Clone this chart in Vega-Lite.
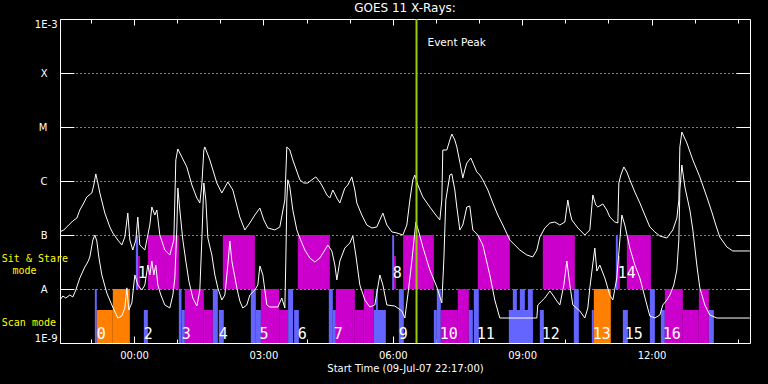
{
  "$schema": "https://vega.github.io/schema/vega-lite/v6.json",
  "width": 690,
  "height": 324,
  "autosize": "none",
  "padding": {"left": 60, "top": 19, "right": 18, "bottom": 41},
  "background": "black",
  "config": {
    "view": {"stroke": "white", "strokeWidth": 1},
    "font": "DejaVu Sans",
    "axis": {"labelFont": "DejaVu Sans", "titleFont": "DejaVu Sans", "labelColor": "white", "titleColor": "white", "tickColor": "white", "domain": false, "grid": false, "titleFontWeight": "normal"}
  },
  "title": {"text": "GOES 11 X-Rays:", "color": "white", "fontSize": 12, "fontWeight": "normal", "font": "DejaVu Sans", "offset": 3, "anchor": "middle"},
  "datasets": {
    "bars": [
      {"start": -0.909, "end": -0.863, "lo": 1e-9, "hi": 1e-8, "kind": "blue"},
      {"start": -0.863, "end": -0.492, "lo": 1e-9, "hi": 4.08e-9, "kind": "orange"},
      {"start": -0.492, "end": -0.097, "lo": 1e-9, "hi": 1e-8, "kind": "orange"},
      {"start": 0.227, "end": 0.320, "lo": 1e-9, "hi": 4.08e-9, "kind": "blue"},
      {"start": 1.039, "end": 1.101, "lo": 1e-9, "hi": 1e-8, "kind": "blue"},
      {"start": 1.101, "end": 1.178, "lo": 1e-9, "hi": 4.08e-9, "kind": "blue"},
      {"start": 1.178, "end": 1.619, "lo": 1e-9, "hi": 1e-8, "kind": "magenta"},
      {"start": 1.619, "end": 1.827, "lo": 1e-9, "hi": 4.08e-9, "kind": "magenta"},
      {"start": 1.827, "end": 1.943, "lo": 1e-9, "hi": 1e-8, "kind": "blue"},
      {"start": 1.966, "end": 2.082, "lo": 1e-9, "hi": 4.08e-9, "kind": "blue"},
      {"start": 2.708, "end": 2.824, "lo": 1e-9, "hi": 1e-8, "kind": "blue"},
      {"start": 2.824, "end": 2.942, "lo": 1e-9, "hi": 4.08e-9, "kind": "blue"},
      {"start": 2.942, "end": 3.365, "lo": 1e-9, "hi": 1e-8, "kind": "magenta"},
      {"start": 3.365, "end": 3.573, "lo": 1e-9, "hi": 4.08e-9, "kind": "magenta"},
      {"start": 3.573, "end": 3.689, "lo": 1e-9, "hi": 1e-8, "kind": "blue"},
      {"start": 3.712, "end": 3.822, "lo": 1e-9, "hi": 4.08e-9, "kind": "blue"},
      {"start": 4.517, "end": 4.610, "lo": 1e-9, "hi": 1e-8, "kind": "blue"},
      {"start": 4.610, "end": 4.680, "lo": 1e-9, "hi": 4.08e-9, "kind": "blue"},
      {"start": 4.680, "end": 5.120, "lo": 1e-9, "hi": 1e-8, "kind": "magenta"},
      {"start": 5.120, "end": 5.329, "lo": 1e-9, "hi": 4.08e-9, "kind": "magenta"},
      {"start": 5.329, "end": 5.561, "lo": 1e-9, "hi": 1e-8, "kind": "magenta"},
      {"start": 5.561, "end": 5.839, "lo": 1e-9, "hi": 4.08e-9, "kind": "blue"},
      {"start": 5.607, "end": 5.654, "lo": 1e-9, "hi": 1e-8, "kind": "blue"},
      {"start": 6.140, "end": 6.256, "lo": 1e-9, "hi": 1e-8, "kind": "blue"},
      {"start": 6.952, "end": 7.021, "lo": 1e-9, "hi": 4.08e-9, "kind": "blue"},
      {"start": 7.021, "end": 7.114, "lo": 1e-9, "hi": 1e-8, "kind": "blue"},
      {"start": 7.114, "end": 7.508, "lo": 1e-9, "hi": 4.08e-9, "kind": "magenta"},
      {"start": 7.508, "end": 7.763, "lo": 1e-9, "hi": 1e-8, "kind": "magenta"},
      {"start": 7.763, "end": 7.856, "lo": 1e-9, "hi": 4.08e-9, "kind": "blue"},
      {"start": 7.879, "end": 7.995, "lo": 1e-9, "hi": 1e-8, "kind": "blue"},
      {"start": 8.691, "end": 9.247, "lo": 1e-9, "hi": 4.08e-9, "kind": "blue"},
      {"start": 8.784, "end": 8.877, "lo": 1e-9, "hi": 1e-8, "kind": "blue"},
      {"start": 8.946, "end": 9.062, "lo": 1e-9, "hi": 1e-8, "kind": "blue"},
      {"start": 9.132, "end": 9.247, "lo": 1e-9, "hi": 1e-8, "kind": "blue"},
      {"start": 9.410, "end": 9.503, "lo": 1e-9, "hi": 4.08e-9, "kind": "blue"},
      {"start": 10.198, "end": 10.314, "lo": 1e-9, "hi": 1e-8, "kind": "blue"},
      {"start": 10.615, "end": 10.662, "lo": 1e-9, "hi": 4.08e-9, "kind": "blue"},
      {"start": 10.662, "end": 11.056, "lo": 1e-9, "hi": 1e-8, "kind": "orange"},
      {"start": 11.335, "end": 11.451, "lo": 1e-9, "hi": 4.08e-9, "kind": "blue"},
      {"start": 11.961, "end": 12.077, "lo": 1e-9, "hi": 1e-8, "kind": "blue"},
      {"start": 12.216, "end": 12.309, "lo": 1e-9, "hi": 4.08e-9, "kind": "blue"},
      {"start": 12.309, "end": 12.726, "lo": 1e-9, "hi": 1e-8, "kind": "magenta"},
      {"start": 12.726, "end": 13.097, "lo": 1e-9, "hi": 4.08e-9, "kind": "magenta"},
      {"start": 13.097, "end": 13.329, "lo": 1e-9, "hi": 1e-8, "kind": "magenta"},
      {"start": 13.329, "end": 13.445, "lo": 1e-9, "hi": 4.08e-9, "kind": "blue"},
      {"start": 0.042, "end": 0.095, "lo": 1e-8, "hi": 1e-7, "kind": "blue"},
      {"start": 0.095, "end": 0.134, "lo": 1e-8, "hi": 4.08e-8, "kind": "magenta"},
      {"start": 0.320, "end": 1.039, "lo": 1e-8, "hi": 1e-7, "kind": "magenta"},
      {"start": 2.059, "end": 2.802, "lo": 1e-8, "hi": 1e-7, "kind": "magenta"},
      {"start": 3.798, "end": 4.540, "lo": 1e-8, "hi": 1e-7, "kind": "magenta"},
      {"start": 5.986, "end": 6.031, "lo": 1e-8, "hi": 1e-7, "kind": "blue"},
      {"start": 6.031, "end": 6.071, "lo": 1e-8, "hi": 4.08e-8, "kind": "magenta"},
      {"start": 6.240, "end": 6.952, "lo": 1e-8, "hi": 1e-7, "kind": "magenta"},
      {"start": 7.972, "end": 8.714, "lo": 1e-8, "hi": 1e-7, "kind": "magenta"},
      {"start": 9.479, "end": 10.221, "lo": 1e-8, "hi": 1e-7, "kind": "magenta"},
      {"start": 11.172, "end": 11.219, "lo": 1e-8, "hi": 1e-7, "kind": "blue"},
      {"start": 11.219, "end": 11.265, "lo": 1e-8, "hi": 4.08e-8, "kind": "magenta"},
      {"start": 11.427, "end": 11.985, "lo": 1e-8, "hi": 1e-7, "kind": "magenta"}
    ],
    "nums": [
      {"hour": -0.863, "flux": 1.21e-9, "label": "0"},
      {"hour": 0.088, "flux": 1.6e-8, "label": "1"},
      {"hour": 0.227, "flux": 1.21e-9, "label": "2"},
      {"hour": 1.108, "flux": 1.21e-9, "label": "3"},
      {"hour": 1.966, "flux": 1.21e-9, "label": "4"},
      {"hour": 2.911, "flux": 1.21e-9, "label": "5"},
      {"hour": 3.794, "flux": 1.21e-9, "label": "6"},
      {"hour": 4.633, "flux": 1.21e-9, "label": "7"},
      {"hour": 6.001, "flux": 1.6e-8, "label": "8"},
      {"hour": 6.140, "flux": 1.21e-9, "label": "9"},
      {"hour": 7.091, "flux": 1.21e-9, "label": "10"},
      {"hour": 7.949, "flux": 1.21e-9, "label": "11"},
      {"hour": 9.456, "flux": 1.21e-9, "label": "12"},
      {"hour": 10.638, "flux": 1.21e-9, "label": "13"},
      {"hour": 11.217, "flux": 1.6e-8, "label": "14"},
      {"hour": 11.379, "flux": 1.21e-9, "label": "15"},
      {"hour": 12.260, "flux": 1.21e-9, "label": "16"}
    ],
    "side": [
      {"hour": -3.066, "flux": 3.6e-8, "label": "Sit & Stare"},
      {"hour": -2.817, "flux": 2.15e-8, "label": "mode"},
      {"hour": -3.066, "flux": 2.3e-9, "label": "Scan mode"}
    ],
    "event": [{"hour": 6.55, "flux": 3.6e-4, "label": "Event Peak"}],
    "flux": [
      {"ch": "long", "hour": -1.721, "flux": 1.14e-7}, {"ch": "long", "hour": -1.628, "flux": 1.24e-7}, {"ch": "long", "hour": -1.535, "flux": 1.47e-7}, {"ch": "long", "hour": -1.419, "flux": 1.82e-7}, {"ch": "long", "hour": -1.326, "flux": 2.06e-7}, {"ch": "long", "hour": -1.257, "flux": 2.90e-7}, {"ch": "long", "hour": -1.165, "flux": 3.92e-7}, {"ch": "long", "hour": -1.095, "flux": 5.06e-7}, {"ch": "long", "hour": -0.979, "flux": 6.00e-7}, {"ch": "long", "hour": -0.932, "flux": 8.43e-7}, {"ch": "long", "hour": -0.886, "flux": 1.35e-6}, {"ch": "long", "hour": -0.839, "flux": 9.18e-7}, {"ch": "long", "hour": -0.793, "flux": 6.00e-7}, {"ch": "long", "hour": -0.677, "flux": 2.55e-7}, {"ch": "long", "hour": -0.561, "flux": 1.41e-7}, {"ch": "long", "hour": -0.492, "flux": 1.09e-7}, {"ch": "long", "hour": -0.376, "flux": 8.07e-8}, {"ch": "long", "hour": -0.283, "flux": 6.53e-8}, {"ch": "long", "hour": -0.213, "flux": 9.18e-8}, {"ch": "long", "hour": -0.144, "flux": 2.55e-7}, {"ch": "long", "hour": -0.097, "flux": 8.07e-8}, {"ch": "long", "hour": -0.028, "flux": 5.27e-8}, {"ch": "long", "hour": 0.042, "flux": 8.07e-8}, {"ch": "long", "hour": 0.088, "flux": 2.15e-7}, {"ch": "long", "hour": 0.134, "flux": 6.53e-8}, {"ch": "long", "hour": 0.251, "flux": 5.27e-8}, {"ch": "long", "hour": 0.366, "flux": 1.53e-7}, {"ch": "long", "hour": 0.413, "flux": 3.30e-7}, {"ch": "long", "hour": 0.482, "flux": 2.34e-7}, {"ch": "long", "hour": 0.529, "flux": 2.90e-7}, {"ch": "long", "hour": 0.598, "flux": 1.00e-7}, {"ch": "long", "hour": 0.714, "flux": 5.27e-8}, {"ch": "long", "hour": 0.830, "flux": 4.27e-8}, {"ch": "long", "hour": 0.923, "flux": 8.07e-8}, {"ch": "long", "hour": 0.969, "flux": 2.45e-6}, {"ch": "long", "hour": 1.016, "flux": 3.92e-6}, {"ch": "long", "hour": 1.085, "flux": 3.03e-6}, {"ch": "long", "hour": 1.224, "flux": 1.82e-6}, {"ch": "long", "hour": 1.341, "flux": 8.43e-7}, {"ch": "long", "hour": 1.457, "flux": 4.84e-7}, {"ch": "long", "hour": 1.526, "flux": 3.92e-7}, {"ch": "long", "hour": 1.572, "flux": 8.43e-7}, {"ch": "long", "hour": 1.619, "flux": 3.75e-6}, {"ch": "long", "hour": 1.642, "flux": 4.27e-6}, {"ch": "long", "hour": 1.758, "flux": 2.45e-6}, {"ch": "long", "hour": 1.920, "flux": 9.18e-7}, {"ch": "long", "hour": 2.036, "flux": 6.00e-7}, {"ch": "long", "hour": 2.175, "flux": 9.57e-7}, {"ch": "long", "hour": 2.291, "flux": 6.81e-7}, {"ch": "long", "hour": 2.453, "flux": 2.15e-7}, {"ch": "long", "hour": 2.569, "flux": 1.24e-7}, {"ch": "long", "hour": 2.685, "flux": 1.67e-7}, {"ch": "long", "hour": 2.801, "flux": 2.34e-7}, {"ch": "long", "hour": 2.918, "flux": 3.16e-7}, {"ch": "long", "hour": 3.010, "flux": 1.90e-7}, {"ch": "long", "hour": 3.103, "flux": 1.35e-7}, {"ch": "long", "hour": 3.265, "flux": 1.24e-7}, {"ch": "long", "hour": 3.381, "flux": 1.41e-7}, {"ch": "long", "hour": 3.497, "flux": 4.45e-7}, {"ch": "long", "hour": 3.543, "flux": 4.27e-6}, {"ch": "long", "hour": 3.613, "flux": 3.75e-6}, {"ch": "long", "hour": 3.682, "flux": 2.45e-6}, {"ch": "long", "hour": 3.845, "flux": 1.05e-6}, {"ch": "long", "hour": 3.937, "flux": 9.18e-7}, {"ch": "long", "hour": 4.030, "flux": 9.18e-7}, {"ch": "long", "hour": 4.123, "flux": 1.05e-6}, {"ch": "long", "hour": 4.216, "flux": 1.19e-6}, {"ch": "long", "hour": 4.308, "flux": 9.57e-7}, {"ch": "long", "hour": 4.378, "flux": 7.74e-7}, {"ch": "long", "hour": 4.471, "flux": 5.51e-7}, {"ch": "long", "hour": 4.540, "flux": 4.84e-7}, {"ch": "long", "hour": 4.610, "flux": 6.81e-7}, {"ch": "long", "hour": 4.703, "flux": 4.84e-7}, {"ch": "long", "hour": 4.772, "flux": 3.92e-7}, {"ch": "long", "hour": 4.888, "flux": 7.41e-7}, {"ch": "long", "hour": 4.958, "flux": 8.43e-7}, {"ch": "long", "hour": 5.050, "flux": 1.19e-6}, {"ch": "long", "hour": 5.120, "flux": 6.81e-7}, {"ch": "long", "hour": 5.166, "flux": 3.92e-7}, {"ch": "long", "hour": 5.282, "flux": 2.34e-7}, {"ch": "long", "hour": 5.398, "flux": 1.53e-7}, {"ch": "long", "hour": 5.514, "flux": 1.35e-7}, {"ch": "long", "hour": 5.630, "flux": 1.41e-7}, {"ch": "long", "hour": 5.700, "flux": 1.90e-7}, {"ch": "long", "hour": 5.770, "flux": 2.55e-7}, {"ch": "long", "hour": 5.862, "flux": 1.53e-7}, {"ch": "long", "hour": 5.978, "flux": 1.14e-7}, {"ch": "long", "hour": 6.094, "flux": 1.09e-7}, {"ch": "long", "hour": 6.233, "flux": 1.00e-7}, {"ch": "long", "hour": 6.326, "flux": 1.53e-7}, {"ch": "long", "hour": 6.396, "flux": 4.45e-7}, {"ch": "long", "hour": 6.465, "flux": 1.05e-6}, {"ch": "long", "hour": 6.511, "flux": 1.29e-6}, {"ch": "long", "hour": 6.581, "flux": 8.43e-7}, {"ch": "long", "hour": 6.697, "flux": 5.06e-7}, {"ch": "long", "hour": 6.859, "flux": 3.30e-7}, {"ch": "long", "hour": 6.998, "flux": 2.34e-7}, {"ch": "long", "hour": 7.091, "flux": 1.90e-7}, {"ch": "long", "hour": 7.137, "flux": 4.45e-7}, {"ch": "long", "hour": 7.160, "flux": 3.75e-6}, {"ch": "long", "hour": 7.253, "flux": 3.75e-6}, {"ch": "long", "hour": 7.323, "flux": 5.74e-6}, {"ch": "long", "hour": 7.369, "flux": 7.41e-6}, {"ch": "long", "hour": 7.439, "flux": 5.74e-6}, {"ch": "long", "hour": 7.485, "flux": 4.27e-6}, {"ch": "long", "hour": 7.555, "flux": 2.25e-6}, {"ch": "long", "hour": 7.624, "flux": 1.14e-6}, {"ch": "long", "hour": 7.670, "flux": 1.60e-6}, {"ch": "long", "hour": 7.717, "flux": 2.15e-6}, {"ch": "long", "hour": 7.810, "flux": 2.67e-6}, {"ch": "long", "hour": 7.879, "flux": 1.98e-6}, {"ch": "long", "hour": 7.949, "flux": 1.47e-6}, {"ch": "long", "hour": 8.019, "flux": 1.29e-6}, {"ch": "long", "hour": 8.088, "flux": 1.05e-6}, {"ch": "long", "hour": 8.204, "flux": 6.81e-7}, {"ch": "long", "hour": 8.320, "flux": 3.92e-7}, {"ch": "long", "hour": 8.436, "flux": 2.34e-7}, {"ch": "long", "hour": 8.552, "flux": 1.53e-7}, {"ch": "long", "hour": 8.714, "flux": 8.07e-8}, {"ch": "long", "hour": 8.946, "flux": 5.27e-8}, {"ch": "long", "hour": 9.108, "flux": 4.27e-8}, {"ch": "long", "hour": 9.247, "flux": 3.92e-8}, {"ch": "long", "hour": 9.340, "flux": 5.27e-8}, {"ch": "long", "hour": 9.410, "flux": 9.18e-8}, {"ch": "long", "hour": 9.526, "flux": 1.35e-7}, {"ch": "long", "hour": 9.642, "flux": 1.67e-7}, {"ch": "long", "hour": 9.758, "flux": 1.74e-7}, {"ch": "long", "hour": 9.874, "flux": 1.53e-7}, {"ch": "long", "hour": 9.990, "flux": 1.74e-7}, {"ch": "long", "hour": 10.059, "flux": 4.45e-7}, {"ch": "long", "hour": 10.106, "flux": 2.67e-7}, {"ch": "long", "hour": 10.152, "flux": 1.90e-7}, {"ch": "long", "hour": 10.291, "flux": 1.35e-7}, {"ch": "long", "hour": 10.453, "flux": 1.00e-7}, {"ch": "long", "hour": 10.569, "flux": 1.24e-7}, {"ch": "long", "hour": 10.639, "flux": 5.51e-7}, {"ch": "long", "hour": 10.708, "flux": 3.59e-7}, {"ch": "long", "hour": 10.755, "flux": 3.30e-7}, {"ch": "long", "hour": 10.871, "flux": 3.75e-7}, {"ch": "long", "hour": 10.963, "flux": 2.90e-7}, {"ch": "long", "hour": 11.033, "flux": 2.15e-7}, {"ch": "long", "hour": 11.149, "flux": 1.74e-7}, {"ch": "long", "hour": 11.219, "flux": 1.67e-7}, {"ch": "long", "hour": 11.242, "flux": 9.18e-7}, {"ch": "long", "hour": 11.288, "flux": 1.29e-6}, {"ch": "long", "hour": 11.358, "flux": 1.82e-6}, {"ch": "long", "hour": 11.427, "flux": 1.47e-6}, {"ch": "long", "hour": 11.497, "flux": 1.05e-6}, {"ch": "long", "hour": 11.613, "flux": 6.25e-7}, {"ch": "long", "hour": 11.729, "flux": 3.92e-7}, {"ch": "long", "hour": 11.845, "flux": 2.34e-7}, {"ch": "long", "hour": 11.961, "flux": 1.41e-7}, {"ch": "long", "hour": 12.077, "flux": 1.14e-7}, {"ch": "long", "hour": 12.193, "flux": 9.57e-8}, {"ch": "long", "hour": 12.355, "flux": 8.79e-8}, {"ch": "long", "hour": 12.494, "flux": 1.24e-7}, {"ch": "long", "hour": 12.587, "flux": 2.06e-7}, {"ch": "long", "hour": 12.633, "flux": 4.45e-7}, {"ch": "long", "hour": 12.657, "flux": 4.27e-6}, {"ch": "long", "hour": 12.703, "flux": 8.07e-6}, {"ch": "long", "hour": 12.819, "flux": 5.06e-6}, {"ch": "long", "hour": 12.958, "flux": 2.45e-6}, {"ch": "long", "hour": 13.120, "flux": 1.19e-6}, {"ch": "long", "hour": 13.282, "flux": 5.06e-7}, {"ch": "long", "hour": 13.398, "flux": 2.67e-7}, {"ch": "long", "hour": 13.490, "flux": 1.53e-7}, {"ch": "long", "hour": 13.583, "flux": 9.18e-8}, {"ch": "long", "hour": 13.746, "flux": 6.00e-8}, {"ch": "long", "hour": 13.885, "flux": 5.06e-8}, {"ch": "long", "hour": 14.279, "flux": 5.06e-8},
      {"ch": "short", "hour": -1.721, "flux": 6.25e-9}, {"ch": "short", "hour": -1.651, "flux": 7.41e-9}, {"ch": "short", "hour": -1.582, "flux": 6.81e-9}, {"ch": "short", "hour": -1.489, "flux": 7.74e-9}, {"ch": "short", "hour": -1.419, "flux": 7.11e-9}, {"ch": "short", "hour": -1.350, "flux": 9.57e-9}, {"ch": "short", "hour": -1.257, "flux": 1.60e-8}, {"ch": "short", "hour": -1.141, "flux": 2.55e-8}, {"ch": "short", "hour": -1.072, "flux": 3.16e-8}, {"ch": "short", "hour": -1.025, "flux": 3.92e-8}, {"ch": "short", "hour": -0.955, "flux": 8.07e-8}, {"ch": "short", "hour": -0.909, "flux": 1.00e-7}, {"ch": "short", "hour": -0.863, "flux": 7.74e-8}, {"ch": "short", "hour": -0.816, "flux": 3.92e-8}, {"ch": "short", "hour": -0.747, "flux": 1.82e-8}, {"ch": "short", "hour": -0.631, "flux": 8.43e-9}, {"ch": "short", "hour": -0.515, "flux": 5.06e-9}, {"ch": "short", "hour": -0.376, "flux": 2.90e-9}, {"ch": "short", "hour": -0.283, "flux": 3.16e-9}, {"ch": "short", "hour": -0.213, "flux": 4.45e-9}, {"ch": "short", "hour": -0.167, "flux": 1.05e-8}, {"ch": "short", "hour": -0.121, "flux": 4.08e-9}, {"ch": "short", "hour": -0.051, "flux": 5.51e-9}, {"ch": "short", "hour": 0.019, "flux": 1.82e-8}, {"ch": "short", "hour": 0.088, "flux": 1.19e-8}, {"ch": "short", "hour": 0.181, "flux": 9.57e-9}, {"ch": "short", "hour": 0.251, "flux": 1.19e-8}, {"ch": "short", "hour": 0.320, "flux": 2.78e-8}, {"ch": "short", "hour": 0.366, "flux": 1.82e-8}, {"ch": "short", "hour": 0.413, "flux": 3.30e-8}, {"ch": "short", "hour": 0.459, "flux": 1.82e-8}, {"ch": "short", "hour": 0.505, "flux": 2.78e-8}, {"ch": "short", "hour": 0.552, "flux": 1.19e-8}, {"ch": "short", "hour": 0.621, "flux": 7.74e-9}, {"ch": "short", "hour": 0.714, "flux": 5.06e-9}, {"ch": "short", "hour": 0.830, "flux": 4.45e-9}, {"ch": "short", "hour": 0.900, "flux": 7.74e-9}, {"ch": "short", "hour": 0.946, "flux": 1.60e-8}, {"ch": "short", "hour": 0.993, "flux": 1.35e-7}, {"ch": "short", "hour": 1.016, "flux": 7.41e-7}, {"ch": "short", "hour": 1.062, "flux": 2.90e-7}, {"ch": "short", "hour": 1.132, "flux": 8.07e-8}, {"ch": "short", "hour": 1.201, "flux": 3.30e-8}, {"ch": "short", "hour": 1.271, "flux": 1.41e-8}, {"ch": "short", "hour": 1.363, "flux": 6.81e-9}, {"ch": "short", "hour": 1.457, "flux": 4.84e-9}, {"ch": "short", "hour": 1.526, "flux": 9.57e-9}, {"ch": "short", "hour": 1.572, "flux": 8.07e-8}, {"ch": "short", "hour": 1.619, "flux": 9.18e-7}, {"ch": "short", "hour": 1.665, "flux": 4.45e-7}, {"ch": "short", "hour": 1.712, "flux": 8.79e-8}, {"ch": "short", "hour": 1.804, "flux": 4.27e-8}, {"ch": "short", "hour": 1.874, "flux": 1.82e-8}, {"ch": "short", "hour": 1.943, "flux": 1.05e-8}, {"ch": "short", "hour": 2.036, "flux": 6.25e-9}, {"ch": "short", "hour": 2.106, "flux": 7.74e-9}, {"ch": "short", "hour": 2.175, "flux": 2.78e-8}, {"ch": "short", "hour": 2.222, "flux": 7.74e-8}, {"ch": "short", "hour": 2.268, "flux": 3.30e-8}, {"ch": "short", "hour": 2.384, "flux": 1.05e-8}, {"ch": "short", "hour": 2.453, "flux": 6.00e-9}, {"ch": "short", "hour": 2.522, "flux": 4.45e-9}, {"ch": "short", "hour": 2.615, "flux": 5.06e-9}, {"ch": "short", "hour": 2.685, "flux": 7.74e-9}, {"ch": "short", "hour": 2.801, "flux": 9.57e-9}, {"ch": "short", "hour": 2.871, "flux": 1.19e-8}, {"ch": "short", "hour": 2.918, "flux": 2.67e-8}, {"ch": "short", "hour": 2.987, "flux": 1.82e-8}, {"ch": "short", "hour": 3.080, "flux": 5.06e-9}, {"ch": "short", "hour": 3.149, "flux": 4.64e-9}, {"ch": "short", "hour": 3.335, "flux": 4.64e-9}, {"ch": "short", "hour": 3.427, "flux": 6.81e-9}, {"ch": "short", "hour": 3.497, "flux": 4.45e-9}, {"ch": "short", "hour": 3.520, "flux": 3.44e-8}, {"ch": "short", "hour": 3.543, "flux": 4.45e-7}, {"ch": "short", "hour": 3.566, "flux": 1.05e-6}, {"ch": "short", "hour": 3.613, "flux": 7.74e-7}, {"ch": "short", "hour": 3.682, "flux": 2.90e-7}, {"ch": "short", "hour": 3.775, "flux": 1.24e-7}, {"ch": "short", "hour": 3.845, "flux": 8.79e-8}, {"ch": "short", "hour": 3.961, "flux": 5.27e-8}, {"ch": "short", "hour": 4.077, "flux": 3.75e-8}, {"ch": "short", "hour": 4.193, "flux": 3.16e-8}, {"ch": "short", "hour": 4.309, "flux": 3.75e-8}, {"ch": "short", "hour": 4.425, "flux": 5.27e-8}, {"ch": "short", "hour": 4.494, "flux": 6.53e-8}, {"ch": "short", "hour": 4.587, "flux": 5.06e-8}, {"ch": "short", "hour": 4.657, "flux": 2.78e-8}, {"ch": "short", "hour": 4.703, "flux": 1.47e-8}, {"ch": "short", "hour": 4.773, "flux": 3.30e-8}, {"ch": "short", "hour": 4.888, "flux": 5.74e-8}, {"ch": "short", "hour": 5.004, "flux": 7.11e-8}, {"ch": "short", "hour": 5.074, "flux": 9.57e-8}, {"ch": "short", "hour": 5.143, "flux": 4.27e-8}, {"ch": "short", "hour": 5.236, "flux": 1.19e-8}, {"ch": "short", "hour": 5.352, "flux": 6.25e-9}, {"ch": "short", "hour": 5.468, "flux": 4.64e-9}, {"ch": "short", "hour": 5.584, "flux": 5.06e-9}, {"ch": "short", "hour": 5.700, "flux": 1.82e-8}, {"ch": "short", "hour": 5.770, "flux": 1.19e-8}, {"ch": "short", "hour": 5.862, "flux": 5.06e-9}, {"ch": "short", "hour": 6.048, "flux": 4.84e-9}, {"ch": "short", "hour": 6.210, "flux": 3.92e-9}, {"ch": "short", "hour": 6.280, "flux": 2.90e-9}, {"ch": "short", "hour": 6.349, "flux": 7.74e-9}, {"ch": "short", "hour": 6.442, "flux": 3.30e-8}, {"ch": "short", "hour": 6.535, "flux": 1.74e-7}, {"ch": "short", "hour": 6.604, "flux": 1.14e-7}, {"ch": "short", "hour": 6.697, "flux": 6.00e-8}, {"ch": "short", "hour": 6.859, "flux": 2.25e-8}, {"ch": "short", "hour": 7.021, "flux": 1.09e-8}, {"ch": "short", "hour": 7.137, "flux": 5.51e-9}, {"ch": "short", "hour": 7.184, "flux": 3.44e-8}, {"ch": "short", "hour": 7.230, "flux": 4.45e-7}, {"ch": "short", "hour": 7.323, "flux": 1.29e-6}, {"ch": "short", "hour": 7.369, "flux": 1.35e-6}, {"ch": "short", "hour": 7.439, "flux": 6.81e-7}, {"ch": "short", "hour": 7.485, "flux": 3.30e-7}, {"ch": "short", "hour": 7.555, "flux": 1.24e-7}, {"ch": "short", "hour": 7.624, "flux": 1.53e-7}, {"ch": "short", "hour": 7.717, "flux": 3.30e-7}, {"ch": "short", "hour": 7.786, "flux": 3.44e-7}, {"ch": "short", "hour": 7.856, "flux": 1.24e-7}, {"ch": "short", "hour": 7.972, "flux": 1.00e-7}, {"ch": "short", "hour": 8.088, "flux": 6.53e-8}, {"ch": "short", "hour": 8.250, "flux": 1.82e-8}, {"ch": "short", "hour": 8.366, "flux": 6.25e-9}, {"ch": "short", "hour": 8.482, "flux": 2.90e-9}, {"ch": "short", "hour": 9.340, "flux": 2.90e-9}, {"ch": "short", "hour": 9.363, "flux": 5.06e-9}, {"ch": "short", "hour": 9.526, "flux": 6.81e-9}, {"ch": "short", "hour": 9.642, "flux": 9.18e-9}, {"ch": "short", "hour": 9.712, "flux": 7.74e-9}, {"ch": "short", "hour": 9.804, "flux": 6.00e-9}, {"ch": "short", "hour": 9.874, "flux": 5.06e-9}, {"ch": "short", "hour": 9.967, "flux": 1.19e-8}, {"ch": "short", "hour": 10.036, "flux": 3.30e-8}, {"ch": "short", "hour": 10.106, "flux": 1.19e-8}, {"ch": "short", "hour": 10.175, "flux": 5.06e-9}, {"ch": "short", "hour": 10.337, "flux": 3.92e-9}, {"ch": "short", "hour": 10.453, "flux": 2.90e-9}, {"ch": "short", "hour": 10.523, "flux": 4.45e-9}, {"ch": "short", "hour": 10.569, "flux": 1.05e-8}, {"ch": "short", "hour": 10.685, "flux": 5.74e-8}, {"ch": "short", "hour": 10.732, "flux": 2.15e-8}, {"ch": "short", "hour": 10.801, "flux": 2.78e-8}, {"ch": "short", "hour": 10.917, "flux": 1.60e-8}, {"ch": "short", "hour": 11.033, "flux": 7.74e-9}, {"ch": "short", "hour": 11.103, "flux": 6.25e-9}, {"ch": "short", "hour": 11.195, "flux": 1.60e-8}, {"ch": "short", "hour": 11.265, "flux": 8.07e-8}, {"ch": "short", "hour": 11.312, "flux": 2.34e-7}, {"ch": "short", "hour": 11.381, "flux": 1.53e-7}, {"ch": "short", "hour": 11.497, "flux": 5.74e-8}, {"ch": "short", "hour": 11.613, "flux": 2.78e-8}, {"ch": "short", "hour": 11.729, "flux": 1.60e-8}, {"ch": "short", "hour": 11.892, "flux": 5.06e-9}, {"ch": "short", "hour": 11.961, "flux": 3.16e-9}, {"ch": "short", "hour": 12.077, "flux": 2.90e-9}, {"ch": "short", "hour": 12.193, "flux": 3.30e-9}, {"ch": "short", "hour": 12.262, "flux": 5.06e-9}, {"ch": "short", "hour": 12.355, "flux": 6.25e-9}, {"ch": "short", "hour": 12.425, "flux": 7.74e-9}, {"ch": "short", "hour": 12.517, "flux": 1.19e-8}, {"ch": "short", "hour": 12.587, "flux": 2.25e-8}, {"ch": "short", "hour": 12.633, "flux": 8.07e-8}, {"ch": "short", "hour": 12.657, "flux": 6.81e-7}, {"ch": "short", "hour": 12.703, "flux": 1.98e-6}, {"ch": "short", "hour": 12.773, "flux": 7.74e-7}, {"ch": "short", "hour": 12.889, "flux": 2.90e-7}, {"ch": "short", "hour": 12.958, "flux": 1.24e-7}, {"ch": "short", "hour": 13.050, "flux": 2.78e-8}, {"ch": "short", "hour": 13.120, "flux": 1.05e-8}, {"ch": "short", "hour": 13.236, "flux": 5.06e-9}, {"ch": "short", "hour": 13.352, "flux": 3.30e-9}, {"ch": "short", "hour": 13.514, "flux": 2.90e-9}, {"ch": "short", "hour": 14.279, "flux": 2.90e-9}
    ]
  },
  "layer": [
    {
      "data": {"name": "bars"},
      "mark": {"type": "rect"},
      "encoding": {
        "x": {"field": "start", "type": "quantitative",
          "scale": {"domain": [-1.7167, 14.2833], "nice": false, "zero": false},
          "axis": {"orient": "bottom", "values": [-1, 0, 1, 2, 3, 4, 5, 6, 7, 8, 9, 10, 11, 12, 13, 14],
            "labelExpr": "datum.value >= 0 && datum.value % 3 === 0 ? (datum.value < 10 ? '0' : '') + datum.value + ':00' : ''",
            "tickSize": {"condition": {"test": "datum.value % 3 === 0", "value": -7}, "value": -4},
            "labelPadding": 14, "labelFontSize": 10, "labelBaseline": "top",
            "title": "Start Time (09-Jul-07 22:17:00)", "titleFontSize": 10, "titlePadding": 3, "grid": false}},
        "x2": {"field": "end"},
        "y": {"field": "lo", "type": "quantitative",
          "scale": {"type": "log", "domain": [1e-9, 1e-3], "nice": false},
          "axis": {"orient": "left", "values": [1e-9, 1e-8, 1e-7, 1e-6, 1e-5, 1e-4, 1e-3],
            "labelExpr": "datum.value < 1.5e-9 ? '1E-9' : datum.value < 1.5e-8 ? 'A' : datum.value < 1.5e-7 ? 'B' : datum.value < 1.5e-6 ? 'C' : datum.value < 1.5e-5 ? 'M' : datum.value < 1.5e-4 ? 'X' : '1E-3'",
            "tickSize": -14, "labelFlush": true, "labelFontSize": 10,
            "labelPadding": {"condition": {"test": "datum.value < 1.5e-9 || datum.value > 5e-4", "value": 17}, "value": 27},
            "grid": true, "gridColor": "white", "gridDash": [1, 3], "gridWidth": 1, "title": null}},
        "y2": {"field": "hi"},
        "color": {"field": "kind", "type": "nominal", "legend": null,
          "scale": {"domain": ["blue", "magenta", "orange"], "range": ["#6464FF", "#CC00CC", "#FF8000"]}}
      }
    },
    {
      "data": {"name": "nums"},
      "mark": {"type": "text", "align": "left", "baseline": "alphabetic", "font": "DejaVu Sans Mono", "fontSize": 15, "color": "white"},
      "encoding": {
        "x": {"field": "hour", "type": "quantitative", "axis": null},
        "y": {"field": "flux", "type": "quantitative", "axis": null},
        "text": {"field": "label"}
      }
    },
    {
      "data": {"name": "flux"},
      "mark": {"type": "line", "color": "white", "strokeWidth": 1, "clip": true},
      "encoding": {
        "x": {"field": "hour", "type": "quantitative",
          "axis": {"orient": "top", "values": [-1, 0, 1, 2, 3, 4, 5, 6, 7, 8, 9, 10, 11, 12, 13, 14], "labels": false,
            "tickSize": {"condition": {"test": "datum.value % 3 === 0", "value": -6}, "value": -4}, "title": null, "grid": false}},
        "y": {"field": "flux", "type": "quantitative",
          "axis": {"orient": "right", "values": [1e-8, 1e-7, 1e-6, 1e-5, 1e-4], "labels": false, "tickSize": -14, "title": null, "grid": false}},
        "detail": {"field": "ch"}
      }
    },
    {
      "data": {"name": "event"},
      "mark": {"type": "rule", "color": "#9ACD00", "strokeWidth": 2},
      "encoding": {
        "x": {"field": "hour", "type": "quantitative", "axis": null}
      }
    },
    {
      "data": {"name": "event"},
      "mark": {"type": "text", "align": "left", "baseline": "middle", "dx": 11, "font": "DejaVu Sans", "fontSize": 10.5, "color": "white"},
      "encoding": {
        "x": {"field": "hour", "type": "quantitative", "axis": null},
        "y": {"field": "flux", "type": "quantitative", "axis": null},
        "text": {"field": "label"}
      }
    },
    {
      "data": {"name": "side"},
      "mark": {"type": "text", "align": "left", "baseline": "middle", "font": "DejaVu Sans Mono", "fontSize": 10, "color": "#FFFF00"},
      "encoding": {
        "x": {"field": "hour", "type": "quantitative", "axis": null},
        "y": {"field": "flux", "type": "quantitative", "axis": null},
        "text": {"field": "label"}
      }
    }
  ],
  "resolve": {"axis": {"x": "independent", "y": "independent"}}
}
